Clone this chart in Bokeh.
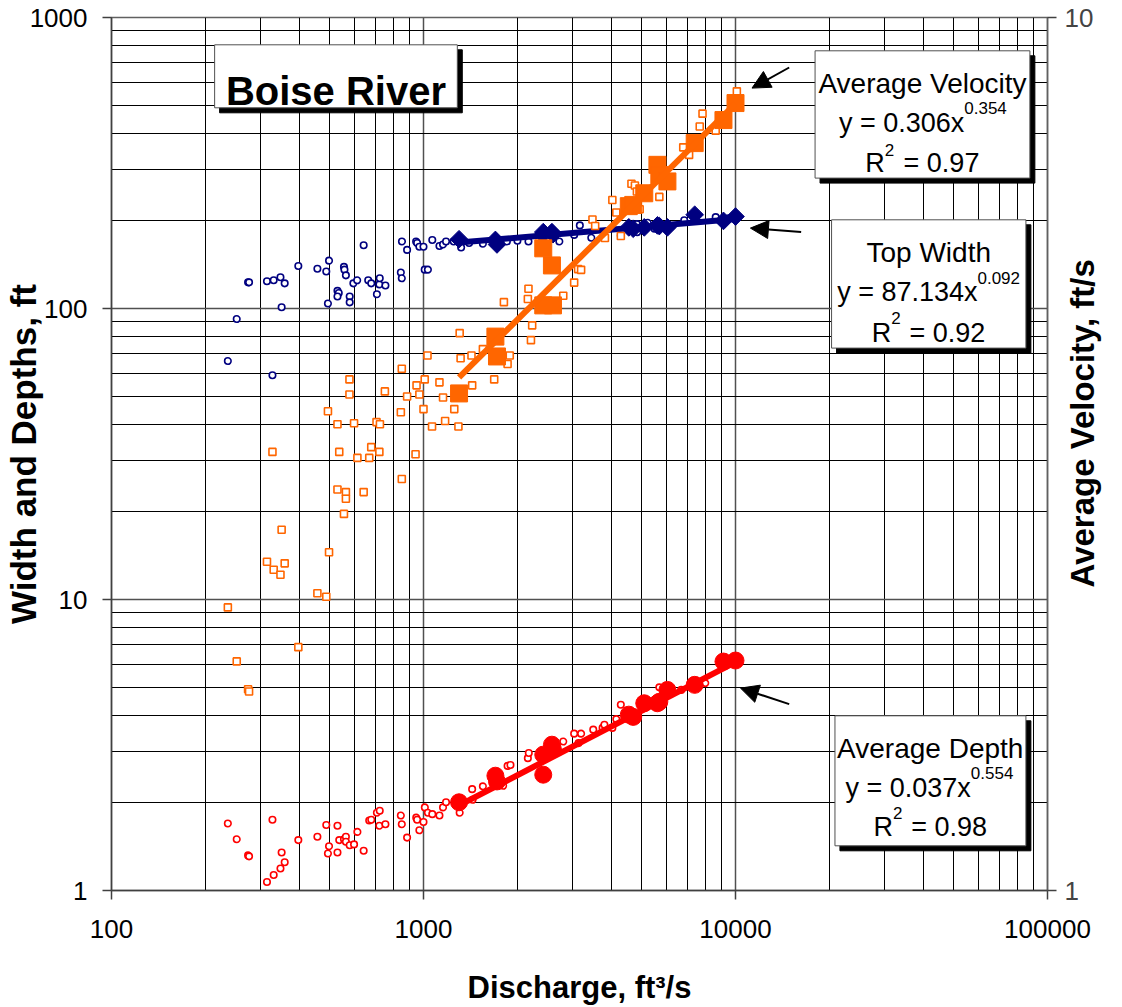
import math
from bokeh.plotting import figure
from bokeh.models import (LogAxis, Range1d, LogScale, FixedTicker, PrintfTickFormatter,
                          BoxAnnotation, Label, Arrow, NormalHead)
from bokeh.embed import file_html
from bokeh.resources import INLINE

# ---------------- data ----------------
# observed points: discharge (ft3/s), top width (ft)
width_q = [236, 252, 274, 276, 315, 328, 331, 348, 351, 359, 397, 457, 488, 494, 498, 530, 535, 530,
           556, 558, 564, 580, 580, 596, 613, 643, 665, 680, 709, 722, 724, 755, 846, 852, 853, 886,
           947, 954, 970, 1000, 1009, 1033, 1067, 1125, 1155, 1181, 1250, 1320, 1400, 1550, 1700,
           1850, 2000, 2170, 2400, 2725, 3040, 3170, 3450, 3800, 4290, 4830, 4840, 5230, 5500,
           5980, 6850, 7500, 8640, 9500]
width_ft = [66, 92, 123, 123, 124, 59, 125, 128, 101, 122, 140, 137, 134, 104, 146, 115, 113, 110,
            139, 136, 130, 110, 105, 122, 125, 165, 125, 122, 112, 121, 127, 120, 133, 127, 170, 159,
            170, 168, 163, 163, 136, 136, 172, 164, 166, 170, 170, 162, 168, 167, 170,
            170, 171, 170, 174, 170, 179, 193, 175, 175, 178, 195, 183, 197, 188,
            193, 201, 200, 206, 204]

# observed points: discharge, average velocity (ft/s)
vel_q = [236, 252, 274, 276, 315, 328, 331, 348, 351, 359, 397, 457, 488, 494, 498, 530, 530, 537,
         556, 564, 564, 579, 579, 599, 614, 643, 670, 680, 707, 722, 725, 752, 846, 852, 852, 886,
         943, 950, 970, 1000, 1009, 1030, 1065, 1125, 1155, 1173, 1255, 1294, 1306, 1315, 1425,
         1432, 1550, 1685, 1810, 1860, 1890, 2160, 2170, 2210, 2230, 2805, 3040, 3130, 3200,
         3480, 3550, 3815, 4030, 4150, 4290, 4640, 4760, 4830, 4930, 5700, 6800, 7100, 7680,
         7840, 8640, 10100]
vel_fps = [2.11, 1.83, 1.70, 1.69, 2.38, 3.18, 2.33, 2.30, 2.59, 2.37, 1.90, 2.19, 2.17, 3.54, 2.44,
           3.42, 2.88, 3.18, 2.70, 2.86, 2.81, 3.70, 3.85, 3.43, 3.13, 2.86, 3.13, 3.22, 3.44, 3.18,
           3.42, 3.73, 3.53, 2.96, 3.96, 3.68, 3.16, 3.79, 3.70, 3.56, 3.85, 4.10, 3.40, 3.82, 3.67,
           3.45, 3.56, 3.40, 4.35, 4.07, 4.10, 3.79, 4.17, 3.85, 4.72, 4.01, 4.10, 4.76, 4.89,
           4.27, 4.44, 4.80, 4.97, 5.15, 5.14, 5.87, 5.77, 5.59, 6.18, 5.98, 5.62, 6.45, 6.42,
           6.32, 6.03, 6.23, 7.10, 6.96, 7.50, 7.76, 7.42, 8.23]

# observed points: discharge, average depth (ft)
depth_q = [236, 252, 274, 276, 315, 328, 331, 348, 351, 359, 397, 457, 488, 494, 498, 530, 530, 537,
           556, 564, 564, 580, 599, 614, 643, 670, 680, 709, 724, 722, 755, 846, 852, 886, 948,
           954, 970, 1000, 1010, 1033, 1067, 1125, 1155, 1181, 1306, 1432, 1437, 1550, 1800, 1860,
           1900, 2160, 2175, 2805, 3040, 3140, 3200, 3500, 3750, 3800, 4030, 4150, 4290, 5700,
           6700, 7850, 8000]
depth_ft = [1.70, 1.50, 1.32, 1.31, 1.07, 1.75, 1.13, 1.19, 1.35, 1.25, 1.49, 1.53, 1.68, 1.34, 1.42,
            1.67, 1.35, 1.49, 1.50, 1.53, 1.47, 1.43, 1.44, 1.59, 1.37, 1.74, 1.75, 1.85, 1.88, 1.67,
            1.69, 1.81, 1.69, 1.52, 1.78, 1.75, 1.61, 1.72, 1.93, 1.85, 1.83, 1.81, 1.93, 2.01, 1.85,
            2.23, 2.05, 2.28, 2.29, 2.68, 2.70, 2.85, 2.97, 3.25, 3.46, 3.21, 3.46, 3.57, 3.62,
            3.71, 3.62, 3.88, 4.35, 4.99, 4.89, 5.19, 5.16]

# large filled markers (measured sections)
big_q = [1300, 1700, 1720, 2420, 2420, 2580, 2600, 4550, 4700, 5100, 5620, 5700, 6050, 7400, 9150, 10000]
big_width = [173, 172, 166, 180, 183, 183, 180, 190, 188, 190, 193, 192, 190, 210, 200, 207]
big_vel = [3.71, 4.31, 4.09, 5.44, 4.68, 5.20, 4.68, 6.08, 6.10, 6.29, 6.78, 6.60, 6.49, 7.18, 7.63, 7.98]
big_depth = [2.01, 2.48, 2.37, 2.93, 2.50, 3.17, 3.05, 4.02, 3.95, 4.40, 4.40, 4.45, 4.89, 5.09, 6.12, 6.17]

# power-law trend lines (end points)
fit_q = [1300, 10000]
fit_width = [168.5, 203.0]
fit_vel = [3.87, 7.97]
fit_depth = [1.96, 6.09]

x_ticks = [100, 1000, 10000, 100000]
y_ticks = [1, 10, 100, 1000]
vel_ticks = [1, 10]

BLUE = "#000080"
ORANGE = "#FF6600"
RED = "#FF0000"
FONT = "Liberation Sans"

# ---------------- figure ----------------
p = figure(width=1122, height=1007, x_axis_type="log", y_axis_type="log",
           x_range=Range1d(100, 100000), y_range=Range1d(1, 1000),
           output_backend="svg", toolbar_location=None,
           min_border_left=109, min_border_right=72, min_border_top=17, min_border_bottom=116,
           background_fill_color="white", border_fill_color="white")
p.outline_line_color = "#606060"
p.outline_line_width = 1.5

def minors(majors):
    out = []
    for m in majors[:-1]:
        out += [m * k for k in range(2, 10)]
    return out

p.xaxis.ticker = FixedTicker(ticks=x_ticks, minor_ticks=minors(x_ticks))
p.yaxis.ticker = FixedTicker(ticks=y_ticks, minor_ticks=minors(y_ticks))

for ax in (p.xaxis[0], p.yaxis[0]):
    ax.formatter = PrintfTickFormatter(format="%d")
    ax.major_label_text_font = FONT
    ax.major_label_text_font_size = "26px"
    ax.major_label_text_color = "black"
    ax.axis_label_text_font = FONT
    ax.axis_label_text_font_style = "bold"
    ax.axis_label_text_color = "black"
    ax.axis_line_color = "#404040"
    ax.axis_line_width = 1.5
    ax.major_tick_line_color = "#404040"
    ax.major_tick_line_width = 1.5
    ax.major_tick_out = 9
    ax.major_tick_in = 0
    ax.minor_tick_out = 0
    ax.minor_tick_in = 0

p.xaxis.axis_label = "Discharge, ft\u00b3/s"
p.xaxis.axis_label_text_font_size = "31px"
p.xaxis.major_label_standoff = 20
p.xaxis.axis_label_standoff = 29
p.yaxis.axis_label = "Width and Depths, ft"
p.yaxis.axis_label_text_font_size = "35px"
p.yaxis.major_label_standoff = 15
p.yaxis.axis_label_standoff = -16

for g in (p.xgrid[0], p.ygrid[0]):
    g.grid_line_color = "#505050"
    g.grid_line_width = 1.5
    g.minor_grid_line_color = "black"
    g.minor_grid_line_width = 1

# right axis for velocity
p.extra_y_ranges = {"vel": Range1d(1, 10)}
p.extra_y_scales = {"vel": LogScale()}
vax = LogAxis(y_range_name="vel", ticker=FixedTicker(ticks=vel_ticks, minor_ticks=[]),
              formatter=PrintfTickFormatter(format="%d"))
vax.major_label_text_font = FONT
vax.major_label_text_font_size = "26px"
vax.axis_line_color = "#606060"
vax.axis_line_width = 1.5
vax.major_tick_line_color = "#404040"
vax.major_tick_line_width = 1.5
vax.major_tick_out = 9
vax.major_tick_in = 0
vax.minor_tick_out = 0
vax.major_label_standoff = 8
p.add_layout(vax, "right")

# right-hand axis title, drawn as the single label of a bare axis so it reads bottom to top
title_tick = 11
tax = LogAxis(ticker=FixedTicker(ticks=[title_tick], minor_ticks=[]),
              major_label_overrides={title_tick: "Average Velocity, ft/s"},
              major_label_orientation=math.pi / 2, major_label_standoff=-14,
              major_tick_out=0, major_tick_in=0, minor_tick_out=0, minor_tick_in=0,
              axis_line_color=None, major_tick_line_color=None, minor_tick_line_color=None,
              major_label_text_font=FONT, major_label_text_font_size="33px",
              major_label_text_font_style="bold", major_label_text_color="black")
p.add_layout(tax, "right")

# ---------------- data glyphs ----------------
p.scatter(width_q, width_ft, marker="circle", size=6.5, fill_color="white",
          line_color=BLUE, line_width=1.6)
p.scatter(big_q, big_width, marker="square", angle=0.785398, size=12.5, fill_color=BLUE,
          line_color=BLUE)
p.line(fit_q, fit_width, line_width=6, line_color=BLUE)

p.scatter(depth_q, depth_ft, marker="circle", size=6.5, fill_color="white",
          line_color=RED, line_width=1.6)
p.scatter(big_q, big_depth, marker="circle", size=17, fill_color=RED, line_color=RED)
p.line(fit_q, fit_depth, line_width=6, line_color=RED)

p.scatter(vel_q, vel_fps, marker="square", size=7, fill_color="white",
          line_color=ORANGE, line_width=1.6, y_range_name="vel")
p.scatter(big_q, big_vel, marker="square", size=17, fill_color=ORANGE, line_color=ORANGE,
          y_range_name="vel")
p.line(fit_q, fit_vel, line_width=6, line_color=ORANGE, y_range_name="vel")

# ---------------- annotations (placed via reference pixel positions) ----------------
def X(px):
    return 10 ** (2 + (px - 109.3) / 313.7)

def Y(py):
    return 10 ** ((890.7 - py) / 291.0)

def textbox(l, t, r, b, sh=5):
    p.add_layout(BoxAnnotation(left=X(l + sh), right=X(r + sh), top=Y(t + sh), bottom=Y(b + sh),
                               fill_color="black", fill_alpha=1, line_color="black", line_alpha=1))
    p.add_layout(BoxAnnotation(left=X(l), right=X(r), top=Y(t), bottom=Y(b),
                               fill_color="white", fill_alpha=1, line_color="#505050",
                               line_width=1, line_alpha=1))

def txt(px, py, s, size="27px", align="center", style="normal"):
    p.add_layout(Label(x=X(px), y=Y(py), text=s, text_align=align, text_baseline="alphabetic",
                       text_font=FONT, text_font_size=size, text_font_style=style,
                       text_color="black"))

# Boise River title box
textbox(213, 45, 457, 108)
txt(335, 91, "Boise River", size="40px", style="bold")

# Average Velocity
textbox(816.7, 51, 1032.7, 178.3)
txt(924.7, 83.3, "Average Velocity", size="28px")
txt(966.7, 123.3, "y = 0.306x", align="right")
txt(966.7, 108.3, "0.354", size="17px", align="left")
txt(886.7, 162.7, "R", align="right")
txt(886.7, 150, "2", size="17px", align="left")
txt(905.7, 162.7, "= 0.97", align="left")

# Top Width
textbox(833.3, 220, 1028.7, 348.3)
txt(931, 252.3, "Top Width", size="28px")
txt(980, 291.7, "y = 87.134x", align="right")
txt(980, 278.3, "0.092", size="17px", align="left")
txt(893.3, 333.3, "R", align="right")
txt(893.3, 318.3, "2", size="17px", align="left")
txt(911.7, 333.3, "= 0.92", align="left")

# Average Depth
textbox(836.7, 716, 1028.7, 846)
txt(932.5, 748.3, "Average Depth", size="28px")
txt(973.3, 788.3, "y = 0.037x", align="right")
txt(973.3, 773.3, "0.554", size="17px", align="left")
txt(895, 826.7, "R", align="right")
txt(895, 813.3, "2", size="17px", align="left")
txt(913.3, 826.7, "= 0.98", align="left")

# arrows
for (x0, y0, x1, y1) in [(790.7, 67.7, 753.3, 88.3), (802.7, 232.3, 751.7, 228.3),
                         (790.7, 704.3, 741.7, 688.3)]:
    p.add_layout(Arrow(end=NormalHead(size=18, fill_color="black", line_color="black"),
                       x_start=X(x0), y_start=Y(y0), x_end=X(x1), y_end=Y(y1),
                       line_width=2, line_color="black"))

open("out.html", "w").write(file_html(p, INLINE))
